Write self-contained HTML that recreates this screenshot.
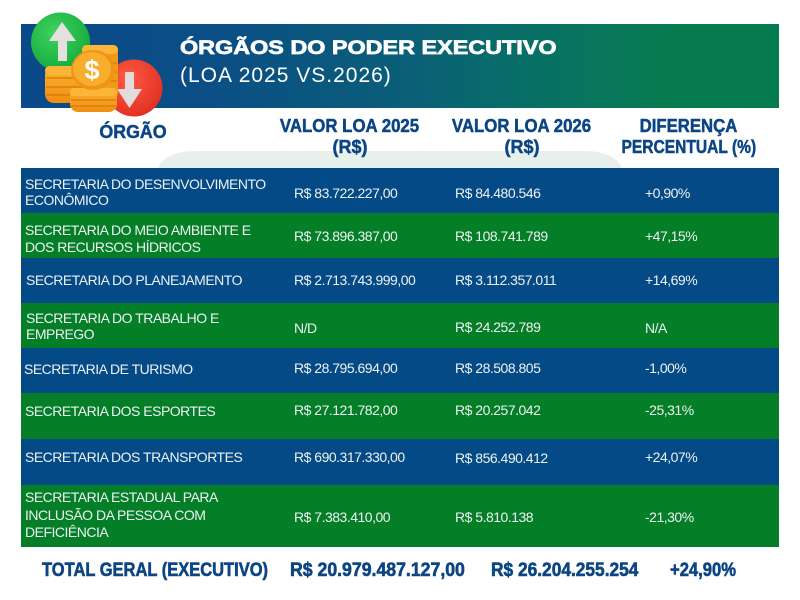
<!DOCTYPE html>
<html>
<head>
<meta charset="utf-8">
<style>
  html,body{margin:0;padding:0;}
  body{width:800px;height:600px;background:#ffffff;position:relative;overflow:hidden;font-family:"Liberation Sans",Arial,sans-serif;}
  .abs{position:absolute;}
  .banner{left:21px;top:24px;width:758px;height:84px;background:linear-gradient(90deg,#0b4a8a 0%,#0b4e86 25%,#0a5e78 50%,#087262 70%,#077b50 86%,#077b50 100%);}
  .title{left:180px;top:37.7px;font-size:19px;line-height:22px;font-weight:bold;color:#ffffff;white-space:nowrap;transform:scaleX(1.23);transform-origin:0 0;-webkit-text-stroke:0.7px #ffffff;}
  .sub{left:180px;top:64px;font-size:21px;line-height:24px;color:#ffffff;letter-spacing:1px;white-space:nowrap;}
  .pale{left:158px;top:151px;width:464px;height:60px;background:#e8f0ec;border-radius:36px 36px 0 0 / 20px 20px 0 0;}
  .hd{font-size:18px;line-height:21px;font-weight:bold;color:#0c4584;white-space:nowrap;text-align:center;width:200px;-webkit-text-stroke:0.5px #0c4584;}
  .hd span{display:inline-block;}
  .row{left:21px;width:758px;}
  .blue{background:#034a86;}
  .green{background:#047f27;}
  .t{font-size:14px;line-height:16px;letter-spacing:-0.5px;color:#eef2f2;white-space:nowrap;}
  .tot{font-size:19px;line-height:18px;font-weight:bold;color:#0c4584;white-space:nowrap;transform-origin:0 0;-webkit-text-stroke:0.6px #0c4584;}
</style>
</head>
<body>

<div class="abs banner"></div>
<div class="abs title">ÓRGÃOS DO PODER EXECUTIVO</div>
<div class="abs sub">(LOA 2025 VS.2026)</div>

<!-- icon -->
<svg class="abs" style="left:0;top:0" width="180" height="125" viewBox="0 0 180 125">
  <defs>
    <radialGradient id="gg" cx="0.4" cy="0.35" r="0.7">
      <stop offset="0" stop-color="#3fd35e"/>
      <stop offset="1" stop-color="#12a83a"/>
    </radialGradient>
    <radialGradient id="rg" cx="0.4" cy="0.35" r="0.7">
      <stop offset="0" stop-color="#ff5a44"/>
      <stop offset="1" stop-color="#e02f22"/>
    </radialGradient>
    <linearGradient id="cg" x1="0" y1="0" x2="0" y2="1">
      <stop offset="0" stop-color="#fbb531"/>
      <stop offset="1" stop-color="#f08d12"/>
    </linearGradient>
  </defs>
  <circle cx="60.5" cy="42" r="29.5" fill="url(#gg)"/>
  <polygon points="62,22 76,41 67,41 67,61 58,61 58,41 49,41" fill="#e4e0df"/>
  <circle cx="134" cy="88" r="28.5" fill="url(#rg)"/>
  <polygon points="125,72 134,72 134,89 142,89 129.5,108 117,89 125,89" fill="#e4dcdc"/>
  <!-- back right stack -->
  <g>
    <rect x="82" y="45" width="36" height="56" rx="8" fill="#f19a1a"/>
    <rect x="82" y="45" width="36" height="9" rx="4.5" fill="#fbb63a"/>
    <line x1="83" y1="63" x2="117" y2="63" stroke="#d97f0c" stroke-width="1.5"/>
    <line x1="83" y1="72" x2="117" y2="72" stroke="#d97f0c" stroke-width="1.5"/>
    <line x1="83" y1="81" x2="117" y2="81" stroke="#d97f0c" stroke-width="1.5"/>
    <line x1="83" y1="90" x2="117" y2="90" stroke="#d97f0c" stroke-width="1.5"/>
  </g>
  <!-- left stack -->
  <g>
    <rect x="45" y="66" width="50" height="37" rx="9" fill="url(#cg)"/>
    <rect x="45" y="66" width="50" height="9" rx="4.5" fill="#fbb63a"/>
    <line x1="46" y1="78" x2="94" y2="78" stroke="#d97f0c" stroke-width="1.5"/>
    <line x1="46" y1="87" x2="94" y2="87" stroke="#d97f0c" stroke-width="1.5"/>
    <line x1="46" y1="95" x2="94" y2="95" stroke="#d97f0c" stroke-width="1.5"/>
  </g>
  <!-- front bottom stack -->
  <g>
    <rect x="70" y="88" width="47" height="24" rx="8" fill="url(#cg)"/>
    <rect x="70" y="88" width="47" height="8" rx="4" fill="#fbb63a"/>
    <line x1="71" y1="100" x2="116" y2="100" stroke="#d97f0c" stroke-width="1.5"/>
    <line x1="71" y1="106" x2="116" y2="106" stroke="#d97f0c" stroke-width="1.5"/>
  </g>
  <!-- big coin -->
  <ellipse cx="93" cy="70" rx="22" ry="20" fill="#ef9414"/>
  <ellipse cx="92" cy="69" rx="19" ry="17" fill="#f9ad2c"/>
  <text x="92" y="79" font-family="Liberation Sans, sans-serif" font-weight="bold" font-size="27" fill="#ffffff" text-anchor="middle">$</text>
</svg>

<div class="abs pale"></div>

<!-- headers -->
<div class="abs hd" style="left:33px;top:122px;"><span style="transform:scaleX(0.99)">ÓRGÃO</span></div>
<div class="abs hd" style="left:250px;top:115.5px;"><span style="transform:scaleX(0.934)">VALOR LOA 2025</span><br><span>(R$)</span></div>
<div class="abs hd" style="left:422px;top:115.5px;"><span style="transform:scaleX(0.934)">VALOR LOA 2026</span><br><span>(R$)</span></div>
<div class="abs hd" style="left:589px;top:115.5px;"><span style="transform:scaleX(0.93)">DIFERENÇA</span><br><span style="transform:scaleX(0.865)">PERCENTUAL (%)</span></div>

<!-- rows -->
<div class="abs row blue" style="top:168px;height:45px;"></div>
<div class="abs row green" style="top:213px;height:45px;"></div>
<div class="abs row blue" style="top:258px;height:45px;"></div>
<div class="abs row green" style="top:303px;height:45px;"></div>
<div class="abs row blue" style="top:348px;height:45px;"></div>
<div class="abs row green" style="top:393px;height:46px;"></div>
<div class="abs row blue" style="top:439px;height:46px;"></div>
<div class="abs row green" style="top:485px;height:62px;"></div>

<!-- col1 -->
<div class="abs t" style="left:25px;top:175.5px;">SECRETARIA DO DESENVOLVIMENTO<br>ECONÔMICO</div>
<div class="abs t" style="left:25px;top:222px;line-height:16.7px;">SECRETARIA DO MEIO AMBIENTE E<br>DOS RECURSOS HÍDRICOS</div>
<div class="abs t" style="left:26px;top:272px;">SECRETARIA DO PLANEJAMENTO</div>
<div class="abs t" style="left:26px;top:309.5px;">SECRETARIA DO TRABALHO E<br>EMPREGO</div>
<div class="abs t" style="left:24px;top:360.5px;">SECRETARIA DE TURISMO</div>
<div class="abs t" style="left:25px;top:402.5px;">SECRETARIA DOS ESPORTES</div>
<div class="abs t" style="left:25px;top:449px;">SECRETARIA DOS TRANSPORTES</div>
<div class="abs t" style="left:25px;top:489px;line-height:17.5px;">SECRETARIA ESTADUAL PARA<br>INCLUSÃO DA PESSOA COM<br>DEFICIÊNCIA</div>

<!-- col2 -->
<div class="abs t" style="left:294px;top:184.5px;">R$ 83.722.227,00</div>
<div class="abs t" style="left:294px;top:228px;">R$ 73.896.387,00</div>
<div class="abs t" style="left:294px;top:272px;">R$ 2.713.743.999,00</div>
<div class="abs t" style="left:294px;top:320px;">N/D</div>
<div class="abs t" style="left:294px;top:360px;">R$ 28.795.694,00</div>
<div class="abs t" style="left:294px;top:401.5px;">R$ 27.121.782,00</div>
<div class="abs t" style="left:294px;top:449px;">R$ 690.317.330,00</div>
<div class="abs t" style="left:294px;top:509px;">R$ 7.383.410,00</div>

<!-- col3 -->
<div class="abs t" style="left:455px;top:184.5px;">R$ 84.480.546</div>
<div class="abs t" style="left:455px;top:228px;">R$ 108.741.789</div>
<div class="abs t" style="left:455px;top:272px;">R$ 3.112.357.011</div>
<div class="abs t" style="left:455px;top:319px;">R$ 24.252.789</div>
<div class="abs t" style="left:455px;top:360px;">R$ 28.508.805</div>
<div class="abs t" style="left:455px;top:401.5px;">R$ 20.257.042</div>
<div class="abs t" style="left:455px;top:449.5px;">R$ 856.490.412</div>
<div class="abs t" style="left:455px;top:509px;">R$ 5.810.138</div>

<!-- col4 -->
<div class="abs t" style="left:645px;top:185px;">+0,90%</div>
<div class="abs t" style="left:645px;top:228px;">+47,15%</div>
<div class="abs t" style="left:645px;top:272px;">+14,69%</div>
<div class="abs t" style="left:645px;top:319.5px;">N/A</div>
<div class="abs t" style="left:645px;top:360px;">-1,00%</div>
<div class="abs t" style="left:645px;top:401.5px;">-25,31%</div>
<div class="abs t" style="left:645px;top:449px;">+24,07%</div>
<div class="abs t" style="left:645px;top:508.5px;">-21,30%</div>

<!-- totals -->
<div class="abs tot" style="left:42px;top:561.5px;transform:scaleX(0.868);">TOTAL GERAL (EXECUTIVO)</div>
<div class="abs tot" style="left:290px;top:561.5px;transform:scaleX(0.93);">R$ 20.979.487.127,00</div>
<div class="abs tot" style="left:491px;top:561.5px;transform:scaleX(0.912);">R$ 26.204.255.254</div>
<div class="abs tot" style="left:670px;top:561.5px;transform:scaleX(0.874);">+24,90%</div>

</body>
</html>
